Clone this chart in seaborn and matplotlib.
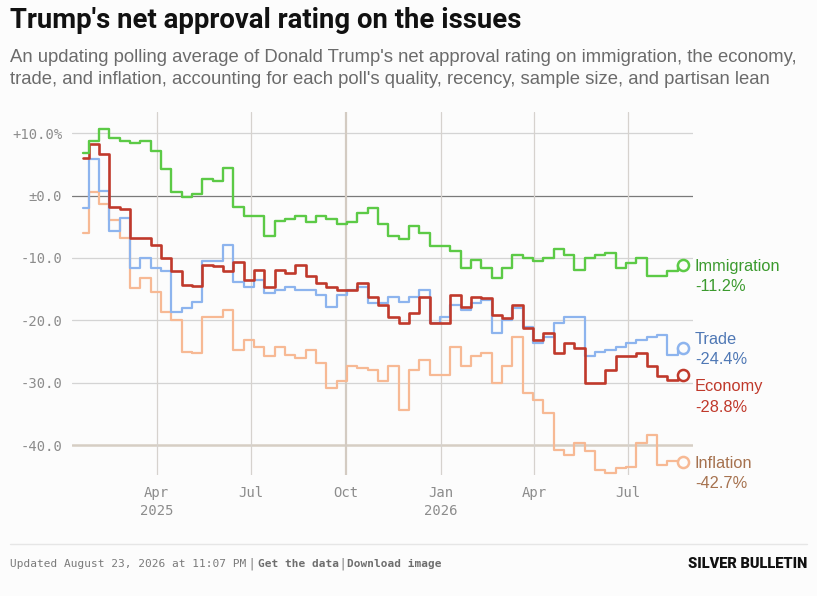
import matplotlib
matplotlib.use('Agg')
import matplotlib.pyplot as plt
import numpy as np
import pandas as pd
import seaborn as sns

# -------------------------------------------------------
# Data (net approval, read every 10 days from Jan 20 2025)
# -------------------------------------------------------
dates = pd.date_range('2025-01-20', '2026-08-23', freq='10D')

immigration = [6.9, 8.7, 10.6, 9.3, 8.7, 8.5, 8.7, 7.1, 4.2, 0.5,
               -0.3, 0.2, 2.6, 2.3, 4.5, -1.9, -3.3, -3.3, -6.5, -4.1,
               -3.8, -3.3, -4.3, -3.3, -3.8, -4.6, -4.3, -2.8, -2.0, -4.6,
               -6.5, -7.0, -4.9, -6.0, -8.1, -8.1, -8.9, -11.6, -10.3, -11.6,
               -13.2, -11.6, -9.5, -10.0, -10.5, -10.0, -8.5, -9.6, -11.9, -10.0,
               -9.6, -9.2, -11.6, -10.8, -10.0, -12.9, -12.9, -12.1, -11.2]

economy = [6.0, 8.3, 6.6, -1.9, -2.2, -6.8, -6.8, -7.9, -10.0, -12.1,
           -14.3, -14.5, -11.1, -11.3, -12.1, -10.7, -13.5, -11.9, -14.6, -11.9,
           -12.4, -11.1, -12.9, -14.0, -14.6, -15.1, -15.1, -14.0, -16.2, -17.5,
           -19.4, -20.4, -18.8, -16.2, -20.4, -20.4, -15.9, -17.8, -16.2, -16.5,
           -19.1, -19.6, -17.5, -21.2, -23.1, -22.0, -25.2, -23.6, -24.4, -30.0,
           -30.0, -27.9, -25.8, -25.8, -25.2, -27.4, -29.0, -29.5, -28.8]

trade = [-2.0, 5.9, 0.7, -5.7, -3.6, -11.6, -10.0, -11.6, -12.1, -18.6,
         -18.0, -17.0, -10.5, -10.5, -7.9, -13.8, -14.6, -13.5, -15.6, -15.1,
         -14.6, -15.1, -15.1, -15.9, -17.8, -15.9, -15.1, -14.6, -17.2, -17.2,
         -16.2, -17.0, -16.2, -15.1, -20.4, -19.4, -17.5, -18.3, -17.2, -16.7,
         -22.0, -19.9, -18.0, -21.0, -23.6, -22.6, -20.4, -19.4, -19.4, -25.8,
         -25.0, -24.7, -24.2, -23.6, -23.1, -22.6, -22.3, -25.5, -24.4]

inflation = [-6.0, 0.5, -1.4, -3.9, -6.8, -14.8, -13.2, -15.4, -18.6, -19.9,
             -25.0, -25.2, -19.4, -19.4, -18.3, -24.7, -23.1, -24.2, -25.8, -24.2,
             -25.5, -26.1, -24.7, -26.9, -30.9, -29.8, -27.4, -27.7, -27.9, -29.8,
             -27.4, -34.3, -27.9, -26.3, -28.7, -28.7, -24.2, -27.4, -25.8, -25.2,
             -30.1, -27.4, -22.6, -31.7, -32.7, -34.9, -40.8, -41.6, -39.7, -41.0,
             -44.0, -44.5, -43.7, -43.5, -39.7, -38.4, -43.2, -42.6, -42.7]

issues = ['Inflation', 'Trade', 'Economy', 'Immigration']
series = {'Immigration': immigration, 'Economy': economy,
          'Trade': trade, 'Inflation': inflation}
line_colors = {'Immigration': '#5cca46', 'Economy': '#c0392b',
               'Trade': '#8db4ee', 'Inflation': '#f7b994'}
label_colors = {'Immigration': '#3b9a2e', 'Economy': '#c0392b',
                'Trade': '#4f78b5', 'Inflation': '#a6724f'}
widths = {'Immigration': 1.7, 'Economy': 1.9, 'Trade': 1.6, 'Inflation': 1.6}

y_ticks = [10, 0, -10, -20, -30, -40]
y_labels = ['+10.0%', '±0.0', '-10.0', '-20.0', '-30.0', '-40.0']
x_ticks = pd.to_datetime(['2025-04-01', '2025-07-01', '2025-10-01',
                          '2026-01-01', '2026-04-01', '2026-07-01'])
x_labels = ['Apr\n2025', 'Jul', 'Oct', 'Jan\n2026', 'Apr', 'Jul']

df = pd.DataFrame({'date': np.tile(dates, len(series)),
                   'issue': np.repeat(list(series.keys()), len(dates)),
                   'value': np.concatenate([series[k] for k in series])})

# -------------------------------------------------------
# Figure
# -------------------------------------------------------
sns.set_style('white')
bg = '#fcfcfc'
W, H = 817, 596
fig = plt.figure(figsize=(W / 100, H / 100), dpi=100, facecolor=bg)
ax = fig.add_axes([72 / W, 1 - 475 / H, (693 - 72) / W, (475 - 112) / H])
ax.set_facecolor(bg)

ax.set_xlim(pd.Timestamp('2025-01-09'), pd.Timestamp('2026-09-02'))
ax.set_ylim(-44.8, 13.4)

for y in y_ticks:
    if y == 0:
        ax.axhline(y, color='#7a7a7a', lw=0.9, zorder=1)
    elif y == -40:
        ax.axhline(y, color='#d6cec4', lw=1.8, zorder=1)
    else:
        ax.axhline(y, color='#d4d4d4', lw=0.9, zorder=1)
for d in x_ticks:
    if d == pd.Timestamp('2025-10-01'):
        ax.axvline(d, color='#d3cbc2', lw=1.6, zorder=1)
    else:
        ax.axvline(d, color='#d6d2ce', lw=0.9, zorder=1)

for name in issues:
    sub = df[df['issue'] == name]
    sns.lineplot(data=sub, x='date', y='value', color=line_colors[name],
                 lw=widths[name], ax=ax, legend=False, clip_on=False, zorder=3,
                 drawstyle='steps-mid')
    ax.plot(dates[-1], series[name][-1], 'o', ms=8, mfc=bg,
            mec=line_colors[name], mew=1.8, clip_on=False, zorder=4)

for s in ax.spines.values():
    s.set_visible(False)
ax.set_xlabel('')
ax.set_ylabel('')
ax.set_yticks(y_ticks)
ax.set_yticklabels(y_labels)
ax.set_xticks(x_ticks)
ax.set_xticklabels(x_labels, linespacing=1.35)
ax.tick_params(length=0, colors='#8c8c8c', labelsize=10)
ax.tick_params(axis='y', pad=7)
ax.tick_params(axis='x', pad=8)
for lab in ax.get_xticklabels() + ax.get_yticklabels():
    lab.set_family('DejaVu Sans Mono')

# end labels
label_y = {'Immigration': 266, 'Trade': 339, 'Economy': 386, 'Inflation': 463}
for name, yy in label_y.items():
    fig.text(695 / W, 1 - yy / H, name, color=label_colors[name],
             fontsize=11.8, family='Liberation Sans', va='center', ha='left')
    fig.text(695 / W, 1 - (yy + 21) / H, f'{series[name][-1]:.1f}%',
             color=label_colors[name], fontsize=11.8, family='Liberation Sans',
             va='center', ha='left')

# title / subtitle
fig.text(10 / W, 1 - 20 / H, "Trump's net approval rating on the issues",
         fontsize=19.8, fontweight='bold', family='Roboto',
         color='#111111', va='center', ha='left')
fig.text(10 / W, 1 - 58 / H,
         "An updating polling average of Donald Trump's net approval rating on immigration, the economy,",
         fontsize=13.3, family='Liberation Sans', color='#6b6b6b', va='center')
fig.text(10 / W, 1 - 79 / H,
         "trade, and inflation, accounting for each poll's quality, recency, sample size, and partisan lean",
         fontsize=13.3, family='Liberation Sans', color='#6b6b6b', va='center')

# footer
fig.add_artist(plt.Line2D([10 / W, 807 / W], [1 - 544 / H, 1 - 544 / H],
                          color='#e6e6e6', lw=1))
fy = 1 - 564 / H
fig.text(10 / W, fy, 'Updated August 23, 2026 at 11:07 PM', fontsize=8,
         family='DejaVu Sans Mono', color='#7a7a7a', va='center')
fig.text(249 / W, fy, '|', fontsize=9, family='DejaVu Sans', color='#7a7a7a', va='center')
fig.text(258 / W, fy, 'Get the data', fontsize=8, family='DejaVu Sans Mono',
         fontweight='bold', color='#6e6e6e', va='center')
fig.text(340 / W, fy, '|', fontsize=9, family='DejaVu Sans', color='#7a7a7a', va='center')
fig.text(347 / W, fy, 'Download image', fontsize=8, family='DejaVu Sans Mono',
         fontweight='bold', color='#6e6e6e', va='center')
fig.text(807 / W, fy, 'SILVER BULLETIN', fontsize=10.5, fontweight='heavy',
         family='Roboto', color='#111111', va='center', ha='right')

fig.savefig('out.png', dpi=100, facecolor=bg)
